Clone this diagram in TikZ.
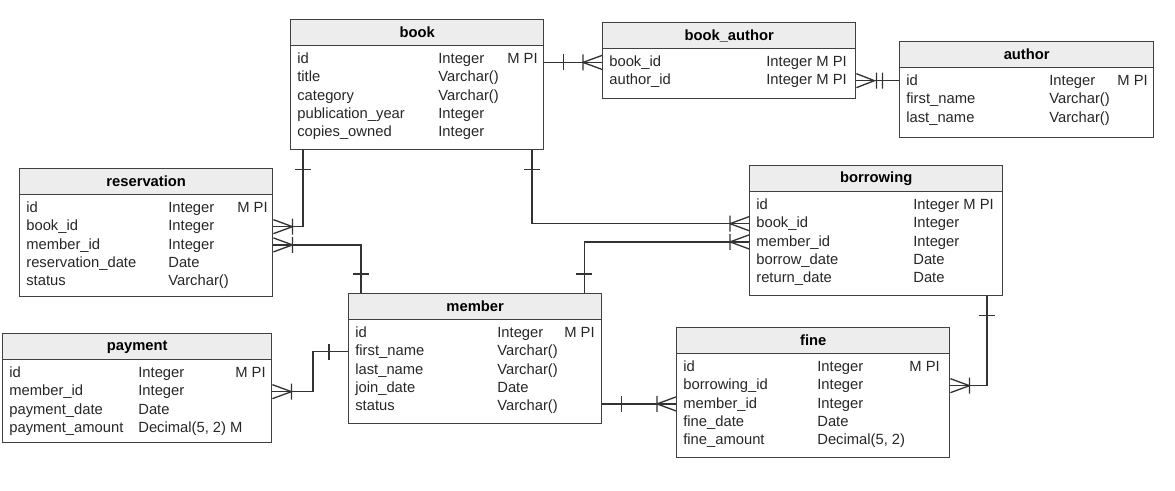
\documentclass[tikz,border=0pt]{standalone}
\usepackage{fontspec}
\setmainfont{Liberation Sans}
\usepackage{tikz}
\newcommand{\fieldfont}{\fontsize{8.4}{10}\selectfont}
\tikzstyle{entity} = [rectangle, 
anchor=north west, 
inner sep=0pt, 
draw=black!75, 
line width=0.8pt]
\tikzstyle{entityhead} = [rectangle, 
anchor=north west, 
inner sep=0pt, 
minimum height=0.52cm, 
draw=black!75, 
line width=0.8pt, 
fill=black!7, 
font=\bfseries\fieldfont]
\tikzstyle{field} = [anchor=west, 
inner sep=0pt, 
text height=6.5pt, 
text depth=1.8pt, 
text=black!85, 
font=\fieldfont]
\tikzstyle{conn} = [line width=0.75pt, draw=black!80]
\tikzset{
  onebar/.pic={\draw[conn] (0.38,-0.16) -- (0.38,0.16);},
  manybar/.pic={\draw[conn] (0,0.14) -- (0.38,0) -- (0,-0.14) (0.38,-0.16) -- (0.38,0.16);},
  manytwobar/.pic={\draw[conn] (0,0.14) -- (0.36,0) -- (0,-0.14) (0.40,-0.16) -- (0.40,0.16) (0.52,-0.16) -- (0.52,0.16);}
}
% name, corner, width, height, title, type column, key column, rows
\newcommand{\ertable}[8]{
	\node (#1) [entity, minimum width=#3cm, minimum height=#4cm] at (#2) {};
	\node (#1-head) [entityhead, minimum width=#3cm] at (#1.north west) {#5};
	\foreach \fname/\ftype/\fkey [count=\i] in {#8} {
		\node (#1-\i) [field, xshift=0.14cm] at ([yshift={-0.26cm-(\i-1)*0.365cm}]#1-head.south west) {\fname};
		\node [field, xshift=#6cm] at (#1.west |- #1-\i) {\ftype};
		\node [field, xshift=#7cm] at (#1.west |- #1-\i) {\fkey};
	}
}

\begin{document}
\begin{tikzpicture}
		\useasboundingbox (0,0) rectangle (23.5,-9.8);
		\ertable{book}{5.80,-0.38}{5.06}{2.60}{book}{2.96}{4.34}
			{id/Integer/M PI, title/Varchar()/{}, category/Varchar()/{}, publication\_year/Integer/{}, copies\_owned/Integer/{}}
		\ertable{ba}{12.04,-0.44}{5.06}{1.52}{book\_author}{3.28}{0}
			{book\_id/Integer M PI/{}, author\_id/Integer M PI/{}}
		\ertable{author}{17.98,-0.82}{5.08}{1.92}{author}{3.00}{4.36}
			{id/Integer/M PI, first\_name/Varchar()/{}, last\_name/Varchar()/{}}
		\ertable{res}{0.38,-3.36}{5.06}{2.56}{reservation}{2.98}{4.36}
			{id/Integer/M PI, book\_id/Integer/{}, member\_id/Integer/{}, reservation\_date/Date/{}, status/Varchar()/{}}
		\ertable{bor}{14.98,-3.30}{5.06}{2.60}{borrowing}{3.28}{0}
			{id/Integer M PI/{}, book\_id/Integer/{}, member\_id/Integer/{}, borrow\_date/Date/{}, return\_date/Date/{}}
		\ertable{member}{6.96,-5.86}{5.06}{2.60}{member}{2.98}{4.32}
			{id/Integer/M PI, first\_name/Varchar()/{}, last\_name/Varchar()/{}, join\_date/Date/{}, status/Varchar()/{}}
		\ertable{pay}{0.04,-6.66}{5.38}{2.18}{payment}{2.72}{4.66}
			{id/Integer/M PI, member\_id/Integer/{}, payment\_date/Date/{}, payment\_amount/{Decimal(5, 2) M}/{}}
		\ertable{fine}{13.52,-6.54}{5.46}{2.60}{fine}{2.82}{4.66}
			{id/Integer/M PI, borrowing\_id/Integer/{}, member\_id/Integer/{}, fine\_date/Date/{}, fine\_amount/{Decimal(5, 2)}/{}}
	
		% book - book_author - author
		\draw [conn] (book.east |- ba-1) -- (ba.west |- ba-1);
		\pic at (book.east |- ba-1) {onebar};
		\pic [rotate=180] at (ba.west |- ba-1) {manybar};
		\draw [conn] (ba.east |- ba-2) -- (author.west |- ba-2);
		\pic at (ba.east |- ba-2) {manytwobar};
	
		% reservation
		\draw [conn] ([xshift=0.26cm]book.south west) |- (res.east |- res-2);
		\pic [rotate=-90] at ([xshift=0.26cm]book.south west) {onebar};
		\pic at (res.east |- res-2) {manybar};
		\draw [conn] ([xshift=0.26cm]member.north west) |- (res.east |- res-3);
		\pic [rotate=90] at ([xshift=0.26cm]member.north west) {onebar};
		\pic at (res.east |- res-3) {manybar};
	
		% borrowing
		\draw [conn] ([xshift=-0.25cm]book.south east) |- (bor.west |- bor-2);
		\pic [rotate=-90] at ([xshift=-0.25cm]book.south east) {onebar};
		\pic [rotate=180] at (bor.west |- bor-2) {manybar};
		\draw [conn] ([xshift=-0.36cm]member.north east) |- (bor.west |- bor-3);
		\pic [rotate=90] at ([xshift=-0.36cm]member.north east) {onebar};
		\pic [rotate=180] at (bor.west |- bor-3) {manybar};
	
		% fine
		\draw [conn] ([xshift=-0.33cm]bor.south east) |- (fine.east |- fine-2);
		\pic [rotate=-90] at ([xshift=-0.33cm]bor.south east) {onebar};
		\pic at (fine.east |- fine-2) {manybar};
		\draw [conn] (member.east |- fine-3) -- (fine.west |- fine-3);
		\pic at (member.east |- fine-3) {onebar};
		\pic [rotate=180] at (fine.west |- fine-3) {manybar};
	
		% payment
		\draw [conn] (member.west |- member-2) -- ++(-0.7,0) |- (pay.east |- pay-2);
		\pic [rotate=180] at (member.west |- member-2) {onebar};
		\pic at (pay.east |- pay-2) {manybar};
	\end{tikzpicture}
\end{document}
